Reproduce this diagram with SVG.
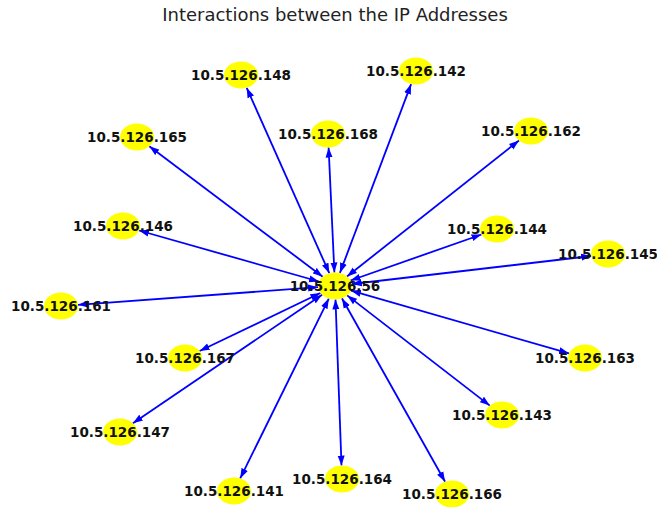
<svg xmlns="http://www.w3.org/2000/svg" width="657" height="507" viewBox="0 0 657 507">
<style>
.e{stroke:#0000ff;stroke-width:1.8;fill:none;marker-start:url(#ah);marker-end:url(#ah)}
.n ellipse{fill:#ffff00}
.n text{font-family:"DejaVu Sans",sans-serif;font-weight:bold;font-size:13.5px;fill:#111;text-anchor:middle;dominant-baseline:central}
.t{font-family:"DejaVu Sans",sans-serif;font-size:18px;fill:#222;text-anchor:middle}
</style>
<defs>
<marker id="ah" markerUnits="userSpaceOnUse" markerWidth="10" markerHeight="8" refX="10" refY="3.5" orient="auto-start-reverse" viewBox="0 0 10 7">
<path d="M0,0 L10,3.5 L0,7 z" fill="#0000ff"/>
</marker>
</defs>
<rect width="657" height="507" fill="#fff"/>
<text class="t" x="335" y="21">Interactions between the IP Addresses</text>
<g id="edges">
<line class="e" x1="329.3" y1="273.2" x2="246.7" y2="87.8"/>
<line class="e" x1="339.9" y1="272.9" x2="411.1" y2="84.1"/>
<line class="e" x1="334.4" y1="272.5" x2="328.6" y2="147.5"/>
<line class="e" x1="322.7" y1="276.7" x2="149.3" y2="146.3"/>
<line class="e" x1="347.0" y1="276.5" x2="519.0" y2="140.5"/>
<line class="e" x1="319.0" y1="281.5" x2="139.0" y2="230.5"/>
<line class="e" x1="350.5" y1="280.5" x2="481.5" y2="234.5"/>
<line class="e" x1="351.8" y1="284.0" x2="591.2" y2="256.0"/>
<line class="e" x1="318.0" y1="287.2" x2="78.0" y2="304.8"/>
<line class="e" x1="320.4" y1="293.0" x2="199.6" y2="351.0"/>
<line class="e" x1="322.1" y1="294.8" x2="132.9" y2="423.2"/>
<line class="e" x1="328.8" y1="298.6" x2="240.2" y2="478.4"/>
<line class="e" x1="335.5" y1="299.5" x2="341.5" y2="465.5"/>
<line class="e" x1="341.9" y1="298.3" x2="445.1" y2="481.7"/>
<line class="e" x1="351.0" y1="290.6" x2="569.0" y2="353.4"/>
<line class="e" x1="347.2" y1="295.4" x2="489.8" y2="405.6"/>
</g>
<g id="n56" class="n"><ellipse cx="335" cy="286" rx="17" ry="13.5"/><text x="335" y="286">10.5.126.56</text></g>
<g id="n148" class="n"><ellipse cx="241" cy="75" rx="17" ry="13.5"/><text x="241" y="75">10.5.126.148</text></g>
<g id="n142" class="n"><ellipse cx="416" cy="71" rx="17" ry="13.5"/><text x="416" y="71">10.5.126.142</text></g>
<g id="n168" class="n"><ellipse cx="328" cy="134" rx="17" ry="13.5"/><text x="328" y="134">10.5.126.168</text></g>
<g id="n165" class="n"><ellipse cx="137" cy="137" rx="17" ry="13.5"/><text x="137" y="137">10.5.126.165</text></g>
<g id="n162" class="n"><ellipse cx="531" cy="131" rx="17" ry="13.5"/><text x="531" y="131">10.5.126.162</text></g>
<g id="n146" class="n"><ellipse cx="123" cy="226" rx="17" ry="13.5"/><text x="123" y="226">10.5.126.146</text></g>
<g id="n144" class="n"><ellipse cx="497" cy="229" rx="17" ry="13.5"/><text x="497" y="229">10.5.126.144</text></g>
<g id="n145" class="n"><ellipse cx="608" cy="254" rx="17" ry="13.5"/><text x="608" y="254">10.5.126.145</text></g>
<g id="n161" class="n"><ellipse cx="61" cy="306" rx="17" ry="13.5"/><text x="61" y="306">10.5.126.161</text></g>
<g id="n167" class="n"><ellipse cx="185" cy="358" rx="17" ry="13.5"/><text x="185" y="358">10.5.126.167</text></g>
<g id="n163" class="n"><ellipse cx="585" cy="358" rx="17" ry="13.5"/><text x="585" y="358">10.5.126.163</text></g>
<g id="n143" class="n"><ellipse cx="502" cy="415" rx="17" ry="13.5"/><text x="502" y="415">10.5.126.143</text></g>
<g id="n147" class="n"><ellipse cx="120" cy="432" rx="17" ry="13.5"/><text x="120" y="432">10.5.126.147</text></g>
<g id="n164" class="n"><ellipse cx="342" cy="479" rx="17" ry="13.5"/><text x="342" y="479">10.5.126.164</text></g>
<g id="n141" class="n"><ellipse cx="234" cy="491" rx="17" ry="13.5"/><text x="234" y="491">10.5.126.141</text></g>
<g id="n166" class="n"><ellipse cx="452" cy="494" rx="17" ry="13.5"/><text x="452" y="494">10.5.126.166</text></g>
</svg>
